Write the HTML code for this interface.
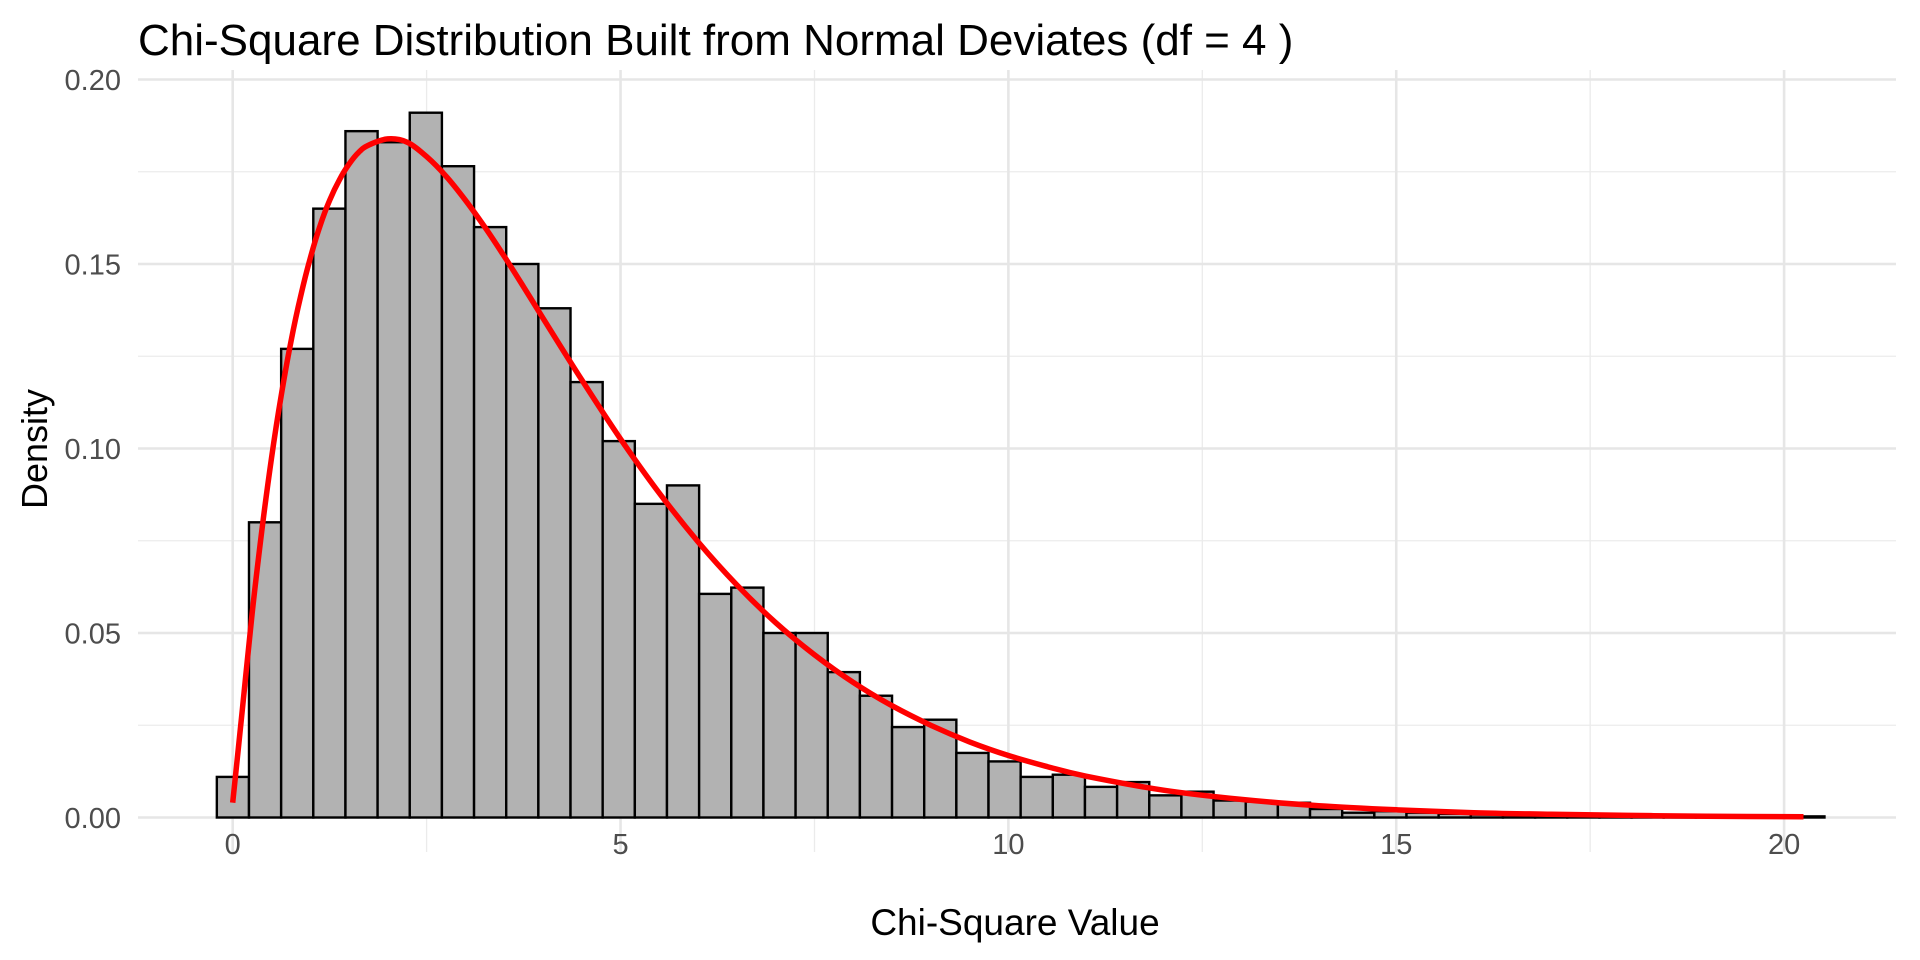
<!DOCTYPE html>
<html><head><meta charset="utf-8"><style>
html,body{margin:0;padding:0;background:#fff;}
svg{display:block;font-family:"Liberation Sans",sans-serif;}
</style></head><body>
<svg id="chart" width="1920" height="960" viewBox="0 0 1920 960">
<g id="grid"></g>
<g id="bars"></g>
<path id="curve" fill="none" stroke="#ff0000" stroke-width="5.5" stroke-linejoin="round" stroke-linecap="butt"></path>
<g id="ticks"></g>
<text x="138" y="55" font-size="44" fill="#000">Chi-Square Distribution Built from Normal Deviates (df = 4 )</text>
<text x="1015" y="935" font-size="37" fill="#000" text-anchor="middle">Chi-Square Value</text>
<text transform="translate(47,449) rotate(-90)" font-size="36" fill="#000" text-anchor="middle">Density</text>
</svg>
<script>
const binStart = -0.2045;
const binWidth = 0.4145;
const binDensity = [0.011,0.080,0.127,0.165,0.186,0.183,0.191,0.1765,0.160,0.150,
0.138,0.118,0.102,0.085,0.090,0.0606,0.0623,0.050,0.050,0.0394,
0.033,0.0245,0.0265,0.0175,0.0152,0.011,0.0116,0.0083,0.0096,0.006,
0.007,0.0046,0.0043,0.004,0.0023,0.0013,0.0017,0.0013,0.001,0.0008,
0.0007,0.0007,0.0005,0.0004,0.0004,0.0003,0.0003,0.0002,0.0002,0.0003];
const curveX = [0,0.125,0.25,0.375,0.5,0.625,0.75,0.875,1,1.125,1.25,1.375,1.5,1.625,1.75,2,2.25,2.5,2.75,3,3.25,3.5,3.75,4,4.5,5,5.5,6,6.5,7,7.5,8,8.5,9,9.5,10,10.5,11,12,13,14,15,16,17,18,19,20.25];
const curveY = [0.004,0.0294,0.0552,0.0777,0.0974,0.1143,0.1289,0.1412,0.1516,0.1603,0.1673,0.1728,0.1771,0.1803,0.1822,0.1839,0.1830,0.1791,0.1738,0.1673,0.1600,0.1521,0.1438,0.1353,0.1186,0.1026,0.0879,0.0747,0.0630,0.0528,0.0441,0.0366,0.0303,0.0250,0.0205,0.0168,0.0138,0.0112,0.0074,0.0049,0.0032,0.0021,0.0013,0.00087,0.00056,0.00036,0.0002];
const xTicks = [0,5,10,15,20];
const xTickLabels = ["0","5","10","15","20"];
const yTicks = [0,0.05,0.10,0.15,0.20];
const yTickLabels = ["0.00","0.05","0.10","0.15","0.20"];

const NS="http://www.w3.org/2000/svg";
const X0=232.7, XS=77.57, Y0=817.5, YS=3690;
const PL=138, PR=1896, PT=70, PB=852;
function sx(v){return X0+v*XS;}
function sy(v){return Y0-v*YS;}
function mk(tag,attrs,parent){const e=document.createElementNS(NS,tag);for(const k in attrs)e.setAttribute(k,attrs[k]);parent.appendChild(e);return e;}
const grid=document.getElementById('grid');
for(let i=0;i<xTicks.length-1;i++){
  const m=(xTicks[i]+xTicks[i+1])/2;
  const l=mk('line',{x1:sx(m),x2:sx(m),y1:PT,y2:PB,stroke:'#ebebeb','stroke-width':1.3},grid);
  
  
}
for(let i=0;i<yTicks.length-1;i++){
  const m=(yTicks[i]+yTicks[i+1])/2;
  const l=mk('line',{x1:PL,x2:PR,y1:sy(m),y2:sy(m),stroke:'#ebebeb','stroke-width':1.3},grid);
  
  
}
const ticks=document.getElementById('ticks');
xTicks.forEach((t,i)=>{
  const l=mk('line',{x1:sx(t),x2:sx(t),y1:PT,y2:PB,stroke:'#e6e6e6','stroke-width':2.6},grid);
  
  
  const tx=mk('text',{x:sx(t),y:854,'font-size':29,fill:'#4d4d4d','text-anchor':'middle'},ticks);
  tx.textContent=xTickLabels[i];
  
  
});
yTicks.forEach((t,i)=>{
  const l=mk('line',{x1:PL,x2:PR,y1:sy(t),y2:sy(t),stroke:'#e6e6e6','stroke-width':2.6},grid);
  
  
  const tx=mk('text',{x:121,y:sy(t)+10.5,'font-size':29,fill:'#4d4d4d','text-anchor':'end'},ticks);
  tx.textContent=yTickLabels[i];
  
  
});
const bars=document.getElementById('bars');
binDensity.forEach((d,i)=>{
  const a=binStart+i*binWidth, b=a+binWidth;
  const r=mk('rect',{x:sx(a),y:sy(d),width:sx(b)-sx(a),height:Math.max(0.5,sy(0)-sy(d)),fill:'#b2b2b2',stroke:'#000','stroke-width':2.4},bars);
  
  
});
const pts=curveX.map((x,i)=>[sx(x),sy(curveY[i])]);
let p='M'+pts[0][0].toFixed(1)+','+pts[0][1].toFixed(1);
for(let i=0;i<pts.length-1;i++){
  const p0=pts[Math.max(0,i-1)],p1=pts[i],p2=pts[i+1],p3=pts[Math.min(pts.length-1,i+2)];
  const c1=[p1[0]+(p2[0]-p0[0])/6,p1[1]+(p2[1]-p0[1])/6];
  const c2=[p2[0]-(p3[0]-p1[0])/6,p2[1]-(p3[1]-p1[1])/6];
  p+='C'+c1[0].toFixed(1)+','+c1[1].toFixed(1)+' '+c2[0].toFixed(1)+','+c2[1].toFixed(1)+' '+p2[0].toFixed(1)+','+p2[1].toFixed(1);
}
document.getElementById('curve').setAttribute('d',p);
</script>
</body></html>
